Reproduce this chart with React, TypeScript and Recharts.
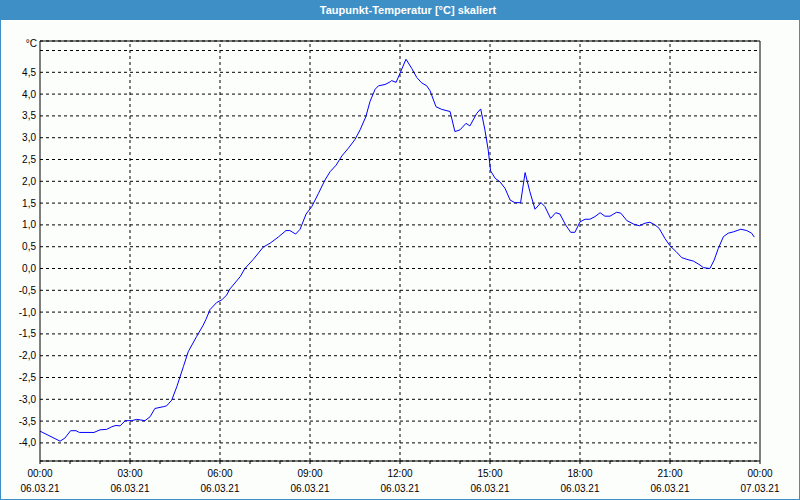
import React from 'react';
import { LineChart, Line, XAxis, YAxis, CartesianGrid, ReferenceLine } from 'recharts';

const hours = [
  0.00, 0.67, 0.83, 1.02, 1.20, 1.31, 1.80, 2.00, 2.22, 2.39, 2.53, 2.67, 2.84, 3.06, 3.22, 3.50,
  3.67, 3.83, 4.11, 4.22, 4.39, 4.56, 4.78, 4.94, 5.22, 5.44, 5.53, 5.67, 5.89, 6.06, 6.22, 6.33,
  6.67, 6.83, 7.11, 7.44, 7.67, 7.94, 8.20, 8.33, 8.52, 8.67, 8.87, 9.06, 9.28, 9.50, 9.67, 9.87,
  10.06, 10.28, 10.50, 10.67, 10.86, 11.00, 11.17, 11.28, 11.50, 11.67, 11.72, 11.87, 12.02, 12.20,
  12.39, 12.56, 12.72, 12.89, 13.00, 13.20, 13.39, 13.67, 13.83, 14.00, 14.20, 14.33, 14.56, 14.69,
  14.83, 14.94, 15.02, 15.17, 15.33, 15.50, 15.67, 15.83, 16.02, 16.17, 16.33, 16.50, 16.70, 16.83,
  17.02, 17.19, 17.33, 17.52, 17.69, 17.83, 18.00, 18.17, 18.33, 18.50, 18.67, 18.83, 19.00, 19.22,
  19.36, 19.56, 19.78, 19.98, 20.17, 20.33, 20.50, 20.64, 20.83, 21.00, 21.20, 21.39, 21.56, 21.78,
  22.00, 22.11, 22.33, 22.47, 22.61, 22.78, 22.94, 23.11, 23.36, 23.56, 23.72, 23.81,
];

const dewPoint = [
  -3.73, -3.96, -3.89, -3.72, -3.72, -3.76, -3.76, -3.70, -3.69, -3.63, -3.60, -3.61, -3.49, -3.49, -3.46, -3.49,
  -3.40, -3.21, -3.17, -3.15, -3.02, -2.71, -2.25, -1.91, -1.56, -1.30, -1.17, -0.94, -0.78, -0.72, -0.61, -0.47,
  -0.19, 0.00, 0.21, 0.49, 0.58, 0.72, 0.87, 0.87, 0.79, 0.90, 1.25, 1.42, 1.72, 2.03, 2.22, 2.37,
  2.58, 2.76, 2.96, 3.18, 3.48, 3.83, 4.11, 4.19, 4.22, 4.28, 4.31, 4.27, 4.51, 4.80,
  4.59, 4.38, 4.26, 4.19, 4.08, 3.71, 3.65, 3.60, 3.14, 3.18, 3.33, 3.27, 3.56, 3.66,
  3.18, 2.72, 2.24, 2.07, 1.99, 1.84, 1.57, 1.51, 1.51, 2.20, 1.76, 1.36, 1.51, 1.42,
  1.15, 1.28, 1.25, 1.00, 0.83, 0.83, 1.07, 1.13, 1.13, 1.19, 1.28, 1.20, 1.20, 1.29,
  1.27, 1.10, 1.02, 0.98, 1.04, 1.06, 1.00, 0.92, 0.69, 0.52, 0.39, 0.25, 0.21, 0.17,
  0.08, 0.02, 0.00, 0.19, 0.46, 0.73, 0.81, 0.84, 0.90, 0.87, 0.81, 0.72,
];

const majorHours = [0, 3, 6, 9, 12, 15, 18, 21, 24];
const timeLabels = ['00:00', '03:00', '06:00', '09:00', '12:00', '15:00', '18:00', '21:00', '00:00'];
const dateLabels = ['06.03.21', '06.03.21', '06.03.21', '06.03.21', '06.03.21', '06.03.21', '06.03.21', '06.03.21', '07.03.21'];
const hourTicks = [0, 1, 2, 3, 4, 5, 6, 7, 8, 9, 10, 11, 12, 13, 14, 15, 16, 17, 18, 19, 20, 21, 22, 23, 24];
const yTicks = [-4, -3.5, -3, -2.5, -2, -1.5, -1, -0.5, 0, 0.5, 1, 1.5, 2, 2.5, 3, 3.5, 4, 4.5, 5];
const gridHours = [3, 6, 9, 12, 15, 18, 21];

const Y_MIN = -4.415;
const Y_MAX = 5.218;
const TITLE = 'Taupunkt-Temperatur [°C] skaliert';
const UNIT = '°C';

const FONT = '"Liberation Sans", Arial, sans-serif';
const BLUE = '#3d8fc6';
const FS = 10;

const data = hours.map((h, i) => ({ h, v: dewPoint[i] }));

const XTick = (props: any) => {
  const { x, y, payload } = props;
  const idx = majorHours.indexOf(payload.value);
  if (idx < 0) return <g />;
  return (
    <g>
      <text x={x} y={y + 13} textAnchor="middle" fontSize={FS} fontFamily={FONT} fill="#000">
        {timeLabels[idx]}
      </text>
      <text x={x} y={y + 27.5} textAnchor="middle" fontSize={FS} fontFamily={FONT} fill="#000">
        {dateLabels[idx]}
      </text>
    </g>
  );
};

const fmtY = (v: number) => (v >= 5 ? '' : v.toFixed(1).replace('.', ','));

export default function App() {
  return (
    <div
      style={{
        position: 'absolute',
        left: 0,
        top: 0,
        width: 800,
        height: 500,
        background: '#fcfefc',
        fontFamily: FONT,
        overflow: 'hidden',
      }}
    >
      <div
        style={{
          position: 'absolute',
          left: 0,
          top: 0,
          width: 800,
          height: 500,
          boxSizing: 'border-box',
          border: `1px solid ${BLUE}`,
          pointerEvents: 'none',
        }}
      />
      <div
        style={{
          position: 'absolute',
          left: 0,
          top: 0,
          width: 800,
          height: 20,
          background: BLUE,
          color: '#fff',
          fontWeight: 'bold',
          fontSize: 11,
          lineHeight: '20px',
          textAlign: 'center',
          paddingLeft: 16,
          boxSizing: 'border-box',
        }}
      >
        {TITLE}
      </div>
      <div
        style={{
          position: 'absolute',
          right: 763,
          top: 38,
          fontSize: FS,
          color: '#000',
          lineHeight: '12px',
        }}
      >
        {UNIT}
      </div>
      <div style={{ position: 'absolute', left: 0, top: 0 }}>
        <LineChart width={800} height={500} data={data} margin={{ top: 41, right: 40, bottom: 0, left: 0 }}>
          <CartesianGrid horizontal vertical={false} stroke="#000" strokeDasharray="3 3" />
          {gridHours.map((h) => (
            <ReferenceLine key={h} x={h} stroke="#000" strokeDasharray="3 3" />
          ))}
          <ReferenceLine y={Y_MAX} stroke="#000" ifOverflow="extendDomain" />
          <ReferenceLine x={24} stroke="#000" />
          <XAxis
            dataKey="h"
            type="number"
            domain={[0, 24]}
            ticks={hourTicks}
            interval={0}
            height={39}
            tickSize={3}
            tickMargin={0}
            stroke="#000"
            tickLine={{ stroke: '#000' }}
            axisLine={{ stroke: '#000' }}
            tick={<XTick />}
            allowDataOverflow
          />
          <YAxis
            type="number"
            domain={[Y_MIN, Y_MAX]}
            ticks={yTicks}
            interval={0}
            width={40}
            tickLine={false}
            tickSize={0}
            tickMargin={4}
            axisLine={{ stroke: '#000' }}
            tickFormatter={fmtY}
            tick={{ fill: '#000', fontSize: FS, fontFamily: FONT }}
            allowDataOverflow
          />
          <Line
            type="linear"
            dataKey="v"
            stroke="#0000ff"
            strokeWidth={1}
            dot={false}
            isAnimationActive={false}
          />
        </LineChart>
      </div>
    </div>
  );
}
